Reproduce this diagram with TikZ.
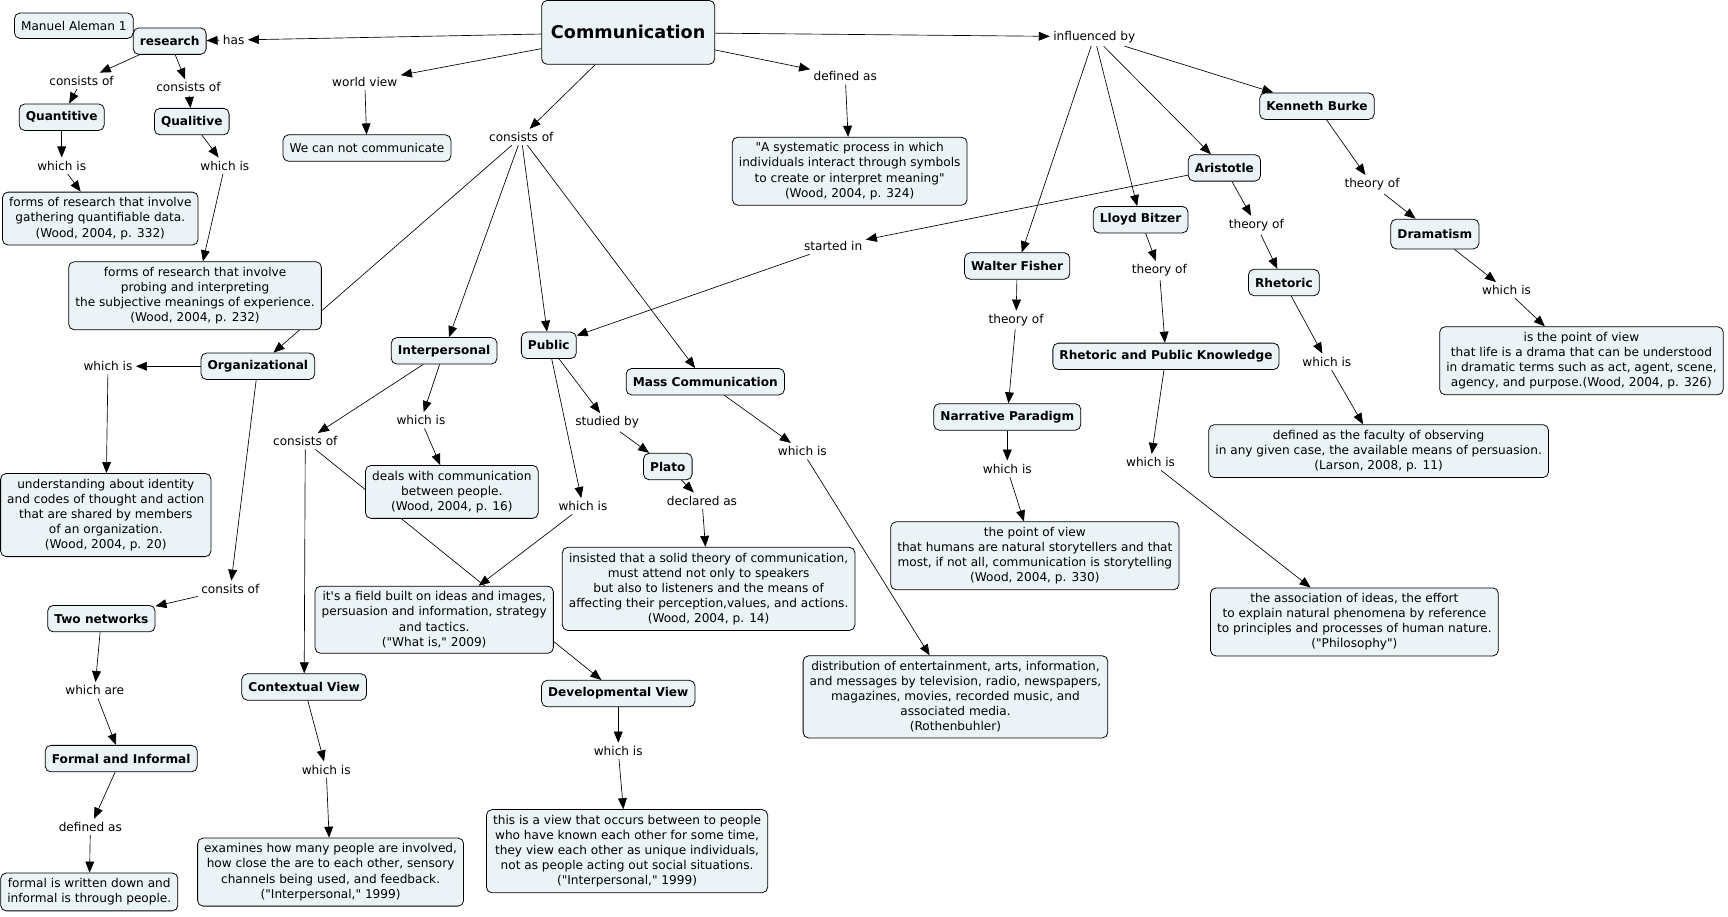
\documentclass[tikz,border=0pt]{standalone}
\usepackage{fontspec}
\setmainfont{DejaVu Sans}[Ligatures=TeXOff]
\usepackage{xcolor}
\usepackage{tikz}
\usetikzlibrary{arrows.meta}

\definecolor{fondcase}{RGB}{235,243,246}

\pgfdeclarelayer{fond}
\pgfsetlayers{fond,main}

\tikzset{
  concept/.style={draw, fill=fondcase, rounded corners=5pt, line width=0.7pt,
    inner xsep=6pt, inner ysep=5pt, minimum height=24pt, align=center,
    font=\fontsize{11}{13.7}\selectfont\bfseries},
  defcase/.style={concept, font=\fontsize{11}{13.7}\selectfont},
  lien/.style={inner sep=3pt, align=center, font=\fontsize{11}{13.7}\selectfont},
  fleche/.style={-{Triangle[length=10pt,width=8pt]}, line width=0.6pt}
}

\begin{document}
\begin{tikzpicture}[x=1pt, y=-1pt]
    % Fond
    \begin{pgfonlayer}{fond}
        \fill[white] (0,0) rectangle (1568,831);
    \end{pgfonlayer}

    % Concepts
    \node[concept, font=\fontsize{16}{19}\selectfont\bfseries, minimum width=157pt, minimum height=58pt] (c_comm) at (570,29) {Communication};
    \node[concept] (c_res)      at (154,37)  {research};
    \node[concept] (c_quant)    at (56,106)  {Quantitive};
    \node[concept] (c_qual)     at (174,110) {Qualitive};
    \node[concept] (c_org)      at (234,332) {Organizational};
    \node[concept] (c_inter)    at (403,318) {Interpersonal};
    \node[concept] (c_public)   at (498,313) {Public};
    \node[concept] (c_mass)     at (640,346) {Mass Communication};
    \node[concept] (c_plato)    at (606,423) {Plato};
    \node[concept] (c_reseaux)  at (92,561)  {Two networks};
    \node[concept] (c_formel)   at (110,688) {Formal and Informal};
    \node[concept] (c_contexte) at (276,623) {Contextual View};
    \node[concept] (c_dev)      at (561,629) {Developmental View};
    \node[concept] (c_burke)    at (1195,96) {Kenneth Burke};
    \node[concept] (c_aristote) at (1111,152) {Aristotle};
    \node[concept] (c_bitzer)   at (1035,199) {Lloyd Bitzer};
    \node[concept] (c_fisher)   at (923,241) {Walter Fisher};
    \node[concept, minimum height=27pt] (c_drama) at (1302,212) {Dramatism};
    \node[concept] (c_rheto)    at (1165,256) {Rhetoric};
    \node[concept] (c_rpk)      at (1058,323) {Rhetoric and Public Knowledge};
    \node[concept] (c_recit)    at (914,378) {Narrative Paradigm};

    % Définitions
    \node[defcase, minimum height=23pt] (d_auteur) at (67,23) {Manuel Aleman 1};
    \node[defcase] (d_wcnc)  at (333,134) {We can not communicate};
    \node[defcase] (d_quant) at (91,198) {forms of research that involve\\gathering quantifiable data.\\(Wood, 2004, p. 332)};
    \node[defcase] (d_qual)  at (177,268) {forms of research that involve\\probing and interpreting\\the subjective meanings of experience.\\(Wood, 2004, p. 232)};
    \node[defcase] (d_comm)  at (771,155) {"A systematic process in which\\individuals interact through symbols\\to create or interpret meaning"\\(Wood, 2004, p. 324)};
    \node[defcase] (d_org)   at (96,467) {understanding about identity\\and codes of thought and action\\that are shared by members\\of an organization.\\(Wood, 2004, p. 20)};
    \node[defcase] (d_inter) at (410,446) {deals with communication\\between people.\\(Wood, 2004, p. 16)};
    \node[defcase] (d_plato) at (643,534) {insisted that a solid theory of communication,\\must attend not only to speakers\\but also to listeners and the means of\\affecting their perception,values, and actions.\\(Wood, 2004, p. 14)};
    \node[defcase] (d_champ) at (394,562) {it\textquotesingle s a field built on ideas and images,\\persuasion and information, strategy\\and tactics.\\("What is," 2009)};
    \node[defcase] (d_mass)  at (867,632) {distribution of entertainment, arts, information,\\and messages by television, radio, newspapers,\\magazines, movies, recorded music, and\\associated media.\\(Rothenbuhler)};
    \node[defcase] (d_formel) at (81,809) {formal is written down and\\informal is through people.};
    \node[defcase] (d_contexte) at (300,791) {examines how many people are involved,\\how close the are to each other, sensory\\channels being used, and feedback.\\("Interpersonal," 1999)};
    \node[defcase] (d_dev)   at (569,772) {this is a view that occurs between to people\\who have known each other for some time,\\they view each other as unique individuals,\\not as people acting out social situations.\\("Interpersonal," 1999)};
    \node[defcase] (d_drama) at (1435,327) {is the point of view\\that life is a drama that can be understood\\in dramatic terms such as act, agent, scene,\\agency, and purpose.(Wood, 2004, p. 326)};
    \node[defcase] (d_rheto) at (1251,409) {defined as the faculty of observing\\in any given case, the available means of persuasion.\\(Larson, 2008, p. 11)};
    \node[defcase] (d_recit) at (939,504) {the point of view\\that humans are natural storytellers and that\\most, if not all, communication is storytelling\\(Wood, 2004, p. 330)};
    \node[defcase] (d_rpk)   at (1229,564) {the association of ideas, the effort\\to explain natural phenomena by reference\\to principles and processes of human nature.\\("Philosophy")};

    % Liens
    \node[lien] (l_has)       at (212,36)  {has};
    \node[lien] (l_cons1)     at (74,73)   {consists of};
    \node[lien] (l_cons2)     at (171,79)  {consists of};
    \node[lien] (l_wis1)      at (56,150)  {which is};
    \node[lien] (l_wis2)      at (204,150) {which is};
    \node[lien] (l_monde)     at (331,74)  {world view};
    \node[lien] (l_cons3)     at (473,124) {consists of};
    \node[lien] (l_defcomm)   at (767,69)  {defined as};
    \node[lien] (l_infl)      at (993,33)  {influenced by};
    \node[lien] (l_debut)     at (756,223) {started in};
    \node[lien] (l_wis_org)   at (98,332)  {which is};
    \node[lien] (l_cons_inter) at (277,400) {consists of};
    \node[lien] (l_wis_inter) at (382,381) {which is};
    \node[lien] (l_etudie)    at (551,383) {studied by};
    \node[lien] (l_declare)   at (637,454) {declared as};
    \node[lien] (l_wis_pub)   at (529,459) {which is};
    \node[lien] (l_wis_mass)  at (728,409) {which is};
    \node[lien] (l_consits)   at (209,534) {consits of};
    \node[lien] (l_sont)      at (86,626)  {which are};
    \node[lien] (l_defformel) at (82,750)  {defined as};
    \node[lien] (l_wis_ctx)   at (296,698) {which is};
    \node[lien] (l_wis_dev)   at (561,681) {which is};
    \node[lien] (l_th_fisher) at (922,290) {theory of};
    \node[lien] (l_th_bitzer) at (1052,245) {theory of};
    \node[lien] (l_th_arist)  at (1140,204) {theory of};
    \node[lien] (l_th_burke)  at (1245,167) {theory of};
    \node[lien] (l_wis_recit) at (914,425) {which is};
    \node[lien] (l_wis_rpk)   at (1044,419) {which is};
    \node[lien] (l_wis_rheto) at (1204,328) {which is};
    \node[lien] (l_wis_drama) at (1367,263) {which is};

    % Flèches
    \begin{pgfonlayer}{fond}
    \path[fleche]
        (c_comm) edge (l_has)
                 edge (l_monde)
                 edge (l_cons3)
                 edge (l_defcomm)
                 edge (l_infl)
        (l_has) edge (c_res)
        (c_res) edge (l_cons1)
                edge (l_cons2)
        (l_cons1) edge (c_quant)
        (l_cons2) edge (c_qual)
        (c_quant) edge (l_wis1)
        (l_wis1) edge (d_quant)
        (c_qual) edge (l_wis2)
        (l_wis2) edge (d_qual)
        (l_monde) edge (d_wcnc)
        (l_defcomm) edge (d_comm)
        (l_cons3) edge (c_org)
                  edge (c_inter)
                  edge (c_public)
                  edge (c_mass)
        (c_org) edge (l_wis_org)
                edge (l_consits)
        (l_wis_org) edge (d_org)
        (l_consits) edge (c_reseaux)
        (c_reseaux) edge (l_sont)
        (l_sont) edge (c_formel)
        (c_formel) edge (l_defformel)
        (l_defformel) edge (d_formel)
        (c_inter) edge (l_cons_inter)
                  edge (l_wis_inter)
        (l_wis_inter) edge (d_inter)
        (l_cons_inter) edge (c_contexte)
                       edge (c_dev)
        (c_contexte) edge (l_wis_ctx)
        (l_wis_ctx) edge (d_contexte)
        (c_dev) edge (l_wis_dev)
        (l_wis_dev) edge (d_dev)
        (c_public) edge (l_etudie)
                   edge (l_wis_pub)
        (l_etudie) edge (c_plato)
        (c_plato) edge (l_declare)
        (l_declare) edge (d_plato)
        (l_wis_pub) edge (d_champ)
        (c_mass) edge (l_wis_mass)
        (l_wis_mass) edge (d_mass)
        (l_infl) edge (c_burke)
                 edge (c_aristote)
                 edge (c_bitzer)
                 edge (c_fisher)
        (c_aristote) edge (l_debut)
                     edge (l_th_arist)
        (l_debut) edge (c_public)
        (l_th_arist) edge (c_rheto)
        (c_rheto) edge (l_wis_rheto)
        (l_wis_rheto) edge (d_rheto)
        (c_burke) edge (l_th_burke)
        (l_th_burke) edge (c_drama)
        (c_drama) edge (l_wis_drama)
        (l_wis_drama) edge (d_drama)
        (c_bitzer) edge (l_th_bitzer)
        (l_th_bitzer) edge (c_rpk)
        (c_rpk) edge (l_wis_rpk)
        (l_wis_rpk) edge (d_rpk)
        (c_fisher) edge (l_th_fisher)
        (l_th_fisher) edge (c_recit)
        (c_recit) edge (l_wis_recit)
        (l_wis_recit) edge (d_recit);
    \end{pgfonlayer}
\end{tikzpicture}
\end{document}
